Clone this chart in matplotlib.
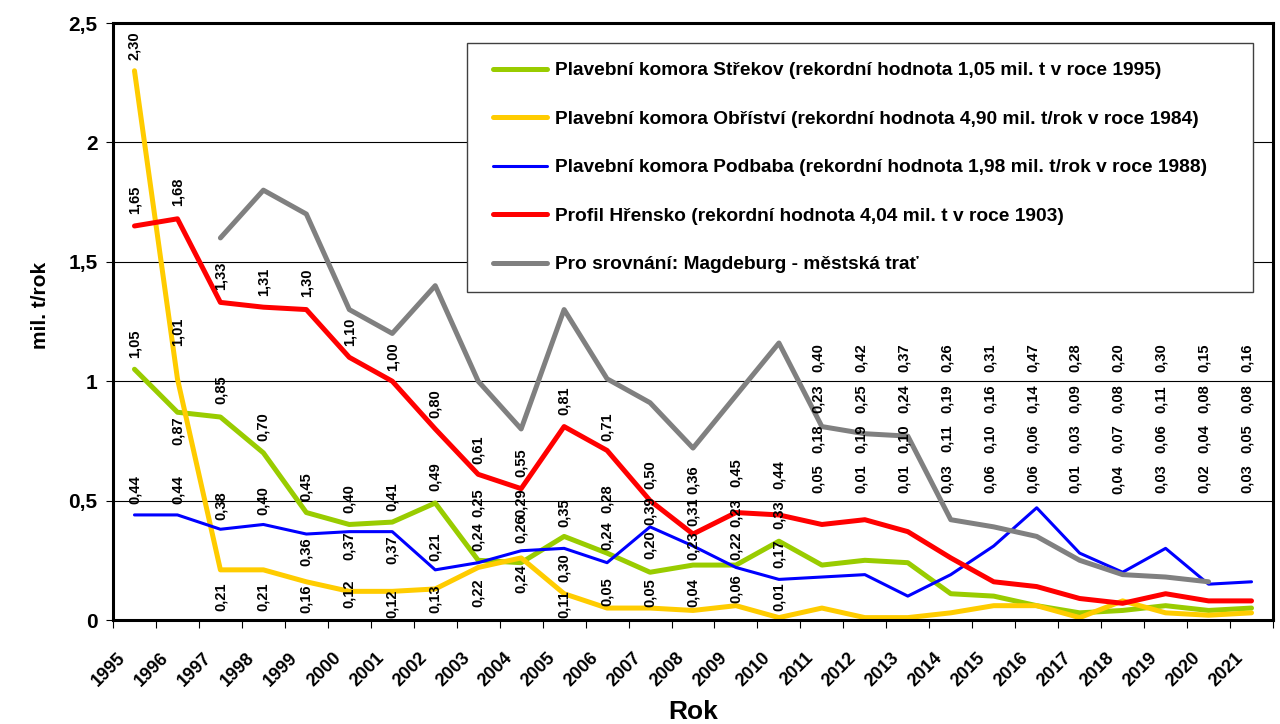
import numpy as np
import matplotlib
matplotlib.use("Agg")
import matplotlib.pyplot as plt
from matplotlib.patches import Rectangle
from matplotlib.transforms import ScaledTranslation

plt.rcParams['font.family'] = ['Liberation Sans', 'DejaVu Sans']
plt.rcParams['font.weight'] = 'bold'

# data (mil. t/rok)
roky = list(range(1995, 2022))
strekov = [1.05, 0.87, 0.85, 0.70, 0.45, 0.40, 0.41, 0.49, 0.25, 0.24, 0.35, 0.28, 0.20, 0.23,
           0.23, 0.33, 0.23, 0.25, 0.24, 0.11, 0.10, 0.06, 0.03, 0.04, 0.06, 0.04, 0.05]
obristvi = [2.30, 1.01, 0.21, 0.21, 0.16, 0.12, 0.12, 0.13, 0.22, 0.26, 0.11, 0.05, 0.05, 0.04,
            0.06, 0.01, 0.05, 0.01, 0.01, 0.03, 0.06, 0.06, 0.01, 0.08, 0.03, 0.02, 0.03]
podbaba = [0.44, 0.44, 0.38, 0.40, 0.36, 0.37, 0.37, 0.21, 0.24, 0.29, 0.30, 0.24, 0.39, 0.31,
           0.22, 0.17, 0.18, 0.19, 0.10, 0.19, 0.31, 0.47, 0.28, 0.20, 0.30, 0.15, 0.16]
hrensko = [1.65, 1.68, 1.33, 1.31, 1.30, 1.10, 1.00, 0.80, 0.61, 0.55, 0.81, 0.71, 0.50, 0.36,
           0.45, 0.44, 0.40, 0.42, 0.37, 0.26, 0.16, 0.14, 0.09, 0.07, 0.11, 0.08, 0.08]
magdeburg = [np.nan, np.nan, 1.60, 1.80, 1.70, 1.30, 1.20, 1.40, 1.00, 0.80, 1.30, 1.01, 0.91, 0.72,
             0.94, 1.16, 0.81, 0.78, 0.77, 0.42, 0.39, 0.35, 0.25, 0.19, 0.18, 0.16, np.nan]

nazvy = ["Plavební komora Střekov (rekordní hodnota 1,05 mil. t v roce 1995)",
         "Plavební komora Obříství (rekordní hodnota 4,90 mil. t/rok v roce 1984)",
         "Plavební komora Podbaba (rekordní hodnota 1,98 mil. t/rok v roce 1988)",
         "Profil Hřensko (rekordní hodnota 4,04 mil. t v roce 1903)",
         "Pro srovnání: Magdeburg - městská trať"]

# posun popisku v px (kladne = dolu), roky 1995-2010
off_strekov = [-26, 18, -27, -26, -26, -26, -25, -26, -58, 16, -24, -54, -28, -19, -52, -27]
off_obristvi = [-25, -47, 27, 27, 17, 2, 12, 10, 25, -29, 10, -16, -15, -18, -17, -21]
off_podbaba = [-25, -25, -24, -24, 18, 14, 18, -23, -26, -48, 19, -27, -16, -34, -22, -26]
off_hrensko = [-26, -27, -27, -25, -27, -26, -25, -25, -25, -26, -26, -24, -26, -54, -40, -40]
# od roku 2011 jsou popisky v radach
radky = [1.10, 0.925, 0.76, 0.59]

W, H = 1280, 724
fig = plt.figure(figsize=(12.8, 7.24), dpi=100)
ax = fig.add_axes([113 / W, 1 - 620 / H, (1273 - 113) / W, (620 - 23) / H])

x = np.arange(len(roky)) + 0.5
serie = [(strekov, '#99CC00', 3.6), (obristvi, '#FFCC00', 3.6), (podbaba, '#0000FF', 2.2),
         (hrensko, '#FF0000', 3.6), (magdeburg, '#808080', 3.6)]
handles = []
for (y, c, lw), nm in zip(serie, nazvy):
    ln, = ax.plot(x, y, color=c, lw=lw, solid_capstyle='round', solid_joinstyle='round',
                  label=nm, zorder=2)
    handles.append(ln)


def fmt(v):
    return f"{v:.2f}".replace('.', ',')


for y, off in [(strekov, off_strekov), (obristvi, off_obristvi),
               (podbaba, off_podbaba), (hrensko, off_hrensko)]:
    for i, o in enumerate(off):
        ax.annotate(fmt(y[i]), (x[i], y[i]), xytext=(0, -o), textcoords='offset pixels',
                    rotation=90, ha='center', va='center', fontsize=10.5, zorder=3)

for i in range(16, len(roky)):
    vals = sorted([strekov[i], obristvi[i], podbaba[i], hrensko[i]], reverse=True)
    for v, r in zip(vals, radky):
        ax.text(x[i] - 0.1, r, fmt(v), rotation=90, ha='center', va='center',
                fontsize=10.5, zorder=3)

ax.set_xlim(0, len(roky))
ax.set_ylim(0, 2.5)
ax.set_yticks([0, 0.5, 1, 1.5, 2, 2.5])
ax.set_yticklabels(['0', '0,5', '1', '1,5', '2', '2,5'])
ax.set_xticks(x)
ax.set_xticklabels([str(r) for r in roky])
ax.set_xticks(np.arange(len(roky) + 1), minor=True)
ax.tick_params(axis='y', direction='out', length=5, width=0.8, labelsize=15, pad=6)
ax.tick_params(axis='x', which='major', length=0, labelsize=13, pad=21)
ax.tick_params(axis='x', which='minor', direction='out', length=5.8, width=0.8)
for lbl in ax.get_xticklabels():
    lbl.set_rotation(45)
    lbl.set_ha('right')
    lbl.set_transform(lbl.get_transform() + ScaledTranslation(-0.05, 0, fig.dpi_scale_trans))

ax.yaxis.grid(True, color='black', lw=0.8)
ax.set_axisbelow(True)
for s in ax.spines.values():
    s.set_linewidth(2.2)
    s.set_color('black')

fig.text(41 / W, 1 - 305 / H, 'mil. t/rok', rotation=90, ha='center', va='center', fontsize=15)
fig.text(693 / W, 1 - 712 / H, 'Rok', ha='center', va='center', fontsize=19)

# legenda
box = Rectangle((467 / W, 1 - 292 / H), (1253 - 467) / W, (292 - 43) / H, transform=fig.transFigure,
                facecolor='white', edgecolor='#404040', lw=1, zorder=4, clip_on=False)
ax.add_patch(box)
leg = ax.legend(handles=handles, loc='upper left', bbox_to_anchor=(493 / W, 1 - 62 / H),
                bbox_transform=fig.transFigure, frameon=False, fontsize=13.8, handlelength=2.8,
                handletextpad=0.42, labelspacing=1.62, borderpad=0, borderaxespad=0)
leg.set_zorder(5)

fig.savefig('out.png', dpi=100)
